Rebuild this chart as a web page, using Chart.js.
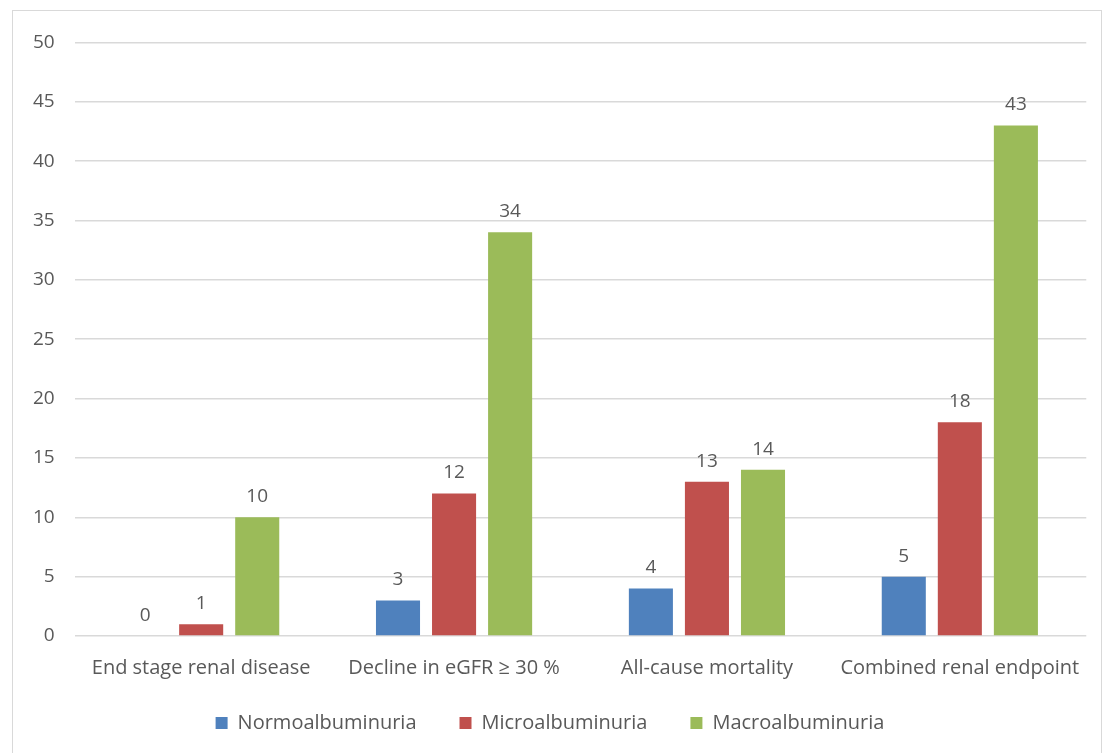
<!DOCTYPE html>
<html>
<head>
<meta charset="utf-8">
<script src="https://cdn.jsdelivr.net/npm/chart.js@4.4.1/dist/chart.umd.min.js"></script>
<style>
  html, body { margin: 0; padding: 0; background: #fff; }
  #frame {
    position: absolute; left: 12px; top: 10px;
    width: 1090px; height: 745px;
    border: 1px solid #D9D9D9; box-sizing: border-box;
  }
  #frame canvas { display: block; }
</style>
</head>
<body>
<div id="frame"><canvas id="albChart"></canvas></div>
<script>
const categories = ['End stage renal disease', 'Decline in eGFR \u2265 30 %', 'All-cause mortality', 'Combined renal endpoint'];
const normoValues = [0, 3, 4, 5];
const microValues = [1, 12, 13, 18];
const macroValues = [10, 34, 14, 43];
const seriesNames = ['Normoalbuminuria', 'Microalbuminuria', 'Macroalbuminuria'];

const textColor = '#595959';
const fontFamily = '"Open Sans", Lato, sans-serif';

// labels au-dessus des barres
const valueLabels = {
  id: 'valueLabels',
  afterDatasetsDraw(chart) {
    const ctx = chart.ctx;
    ctx.save();
    ctx.fillStyle = textColor;
    ctx.font = '19px ' + fontFamily;
    ctx.textAlign = 'center';
    ctx.textBaseline = 'bottom';
    chart.data.datasets.forEach((ds, i) => {
      const meta = chart.getDatasetMeta(i);
      meta.data.forEach((bar, j) => {
        ctx.fillText(String(ds.data[j]), bar.x, bar.y - 11);
      });
    });
    ctx.restore();
  }
};

new Chart(document.getElementById('albChart'), {
  type: 'bar',
  data: {
    labels: categories,
    datasets: [
      { label: seriesNames[0], data: normoValues, backgroundColor: '#4F81BD' },
      { label: seriesNames[1], data: microValues, backgroundColor: '#C0504D' },
      { label: seriesNames[2], data: macroValues, backgroundColor: '#9BBB59' }
    ]
  },
  options: {
    responsive: true,
    maintainAspectRatio: false,
    animation: false,
    datasets: { bar: { categoryPercentage: 0.665, barPercentage: 0.786 } },
    layout: { padding: { left: 0, right: 14, top: 9, bottom: 11 } },
    plugins: {
      tooltip: { enabled: false },
      legend: {
        position: 'bottom',
        labels: {
          color: textColor,
          font: { family: fontFamily, size: 20 },
          boxWidth: 12, boxHeight: 12,
          padding: 13,
          // espace plus large entre les items
          generateLabels(chart) {
            const items = Chart.defaults.plugins.legend.labels.generateLabels(chart);
            items.forEach((it, i) => {
              it.lineWidth = 0;
              if (i < items.length - 1) it.text = it.text + '\u2002\u2002\u2002';
            });
            return items;
          }
        }
      }
    },
    scales: {
      x: {
        grid: { display: false, drawTicks: false },
        border: { display: false },
        ticks: { color: textColor, font: { family: fontFamily, size: 20 }, padding: 20 }
      },
      y: {
        min: 0, max: 50,
        grid: { color: '#D9D9D9', lineWidth: 1.5, drawTicks: false },
        border: { display: false },
        ticks: { stepSize: 5, color: textColor, font: { family: fontFamily, size: 19 }, padding: 20 }
      }
    }
  },
  plugins: [valueLabels]
});
</script>
</body>
</html>
